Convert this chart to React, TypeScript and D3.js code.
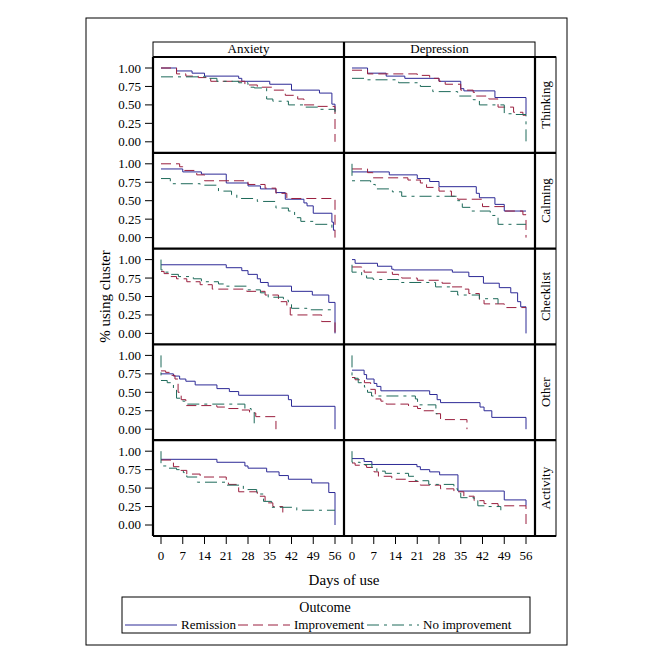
import React from 'react';
import * as d3 from 'd3';

type Pt = [number, number];

const columns = ['Anxiety', 'Depression'];
const rows = ['Thinking', 'Calming', 'Checklist', 'Other', 'Activity'];
const outcomes = ['Remission', 'Improvement', 'No improvement'];
const dayTicks = [0, 7, 14, 21, 28, 35, 42, 49, 56];
const pctTicks = [0, 0.25, 0.5, 0.75, 1];

// [day, proportion still using cluster]
const anxThinkingRem: Pt[] = [[0, 1.0], [5, 0.96], [10, 0.93], [14, 0.89], [25, 0.86], [26, 0.82], [35, 0.78], [42, 0.7], [51, 0.66], [55, 0.51], [56, 0.42]];
const anxThinkingImp: Pt[] = [[0, 1.0], [5, 0.92], [8, 0.89], [12, 0.87], [16, 0.82], [27, 0.77], [31, 0.74], [36, 0.7], [40, 0.63], [44, 0.58], [46, 0.5], [50, 0.48], [56, 0.0]];
const anxThinkingNo: Pt[] = [[0, 0.88], [15, 0.86], [18, 0.82], [25, 0.8], [28, 0.74], [30, 0.73], [34, 0.58], [36, 0.55], [41, 0.5], [46, 0.47], [51, 0.44], [56, 0.4]];

const depThinkingRem: Pt[] = [[0, 1.0], [5, 0.93], [11, 0.89], [17, 0.86], [28, 0.82], [35, 0.72], [36, 0.69], [46, 0.6], [56, 0.37]];
const depThinkingImp: Pt[] = [[0, 0.97], [5, 0.92], [21, 0.9], [25, 0.86], [28, 0.82], [30, 0.78], [35, 0.7], [39, 0.67], [40, 0.62], [44, 0.58], [47, 0.47], [52, 0.4], [55, 0.36], [56, 0.36]];
const depThinkingNo: Pt[] = [[0, 0.86], [5, 0.84], [15, 0.8], [22, 0.75], [26, 0.68], [34, 0.62], [39, 0.57], [41, 0.5], [49, 0.38], [52, 0.37], [56, 0.0]];

const anxCalmingRem: Pt[] = [[0, 0.93], [7, 0.89], [13, 0.86], [21, 0.74], [28, 0.7], [32, 0.66], [37, 0.61], [40, 0.52], [46, 0.47], [47, 0.43], [49, 0.33], [55, 0.21], [55.5, 0.1], [56, 0.1]];
const anxCalmingImp: Pt[] = [[0, 1.0], [6, 0.96], [7, 0.91], [11.5, 0.85], [14, 0.77], [28, 0.72], [33.5, 0.67], [37, 0.6], [40.5, 0.53], [56, 0.0]];
const anxCalmingNo: Pt[] = [[0, 0.8], [3, 0.73], [12.6, 0.71], [18.5, 0.63], [22.7, 0.58], [24.4, 0.53], [31, 0.49], [37, 0.4], [41, 0.36], [43, 0.27], [45, 0.22], [49, 0.18], [55, 0.12], [56, 0.12]];

const depCalmingRem: Pt[] = [[0, 0.89], [12, 0.85], [21, 0.8], [25, 0.76], [28, 0.69], [40, 0.6], [41, 0.54], [46, 0.45], [49, 0.36], [56, 0.36]];
const depCalmingImp: Pt[] = [[0, 0.93], [5, 0.88], [6.7, 0.81], [18, 0.78], [22, 0.74], [24, 0.68], [28, 0.63], [32, 0.56], [34, 0.52], [42, 0.42], [49, 0.36], [55, 0.31], [56, 0.0]];
const depCalmingNo: Pt[] = [[0, 1.0], [0, 0.77], [6, 0.72], [7.5, 0.66], [13, 0.62], [16, 0.56], [34, 0.5], [35.5, 0.41], [38, 0.36], [44.5, 0.3], [47, 0.18], [56, 0.18]];

const anxChecklistRem: Pt[] = [[0, 0.93], [21, 0.89], [26, 0.85], [28, 0.8], [31, 0.74], [32, 0.69], [34.5, 0.64], [42, 0.57], [48.7, 0.52], [54, 0.42], [56, 0.0]];
const anxChecklistImp: Pt[] = [[0, 0.84], [1, 0.81], [3, 0.77], [5, 0.74], [8.3, 0.7], [12.6, 0.66], [16.5, 0.6], [27.6, 0.57], [33.5, 0.52], [37.8, 0.43], [40.5, 0.38], [41.6, 0.25], [51.7, 0.16], [55.5, 0.16], [56, 0.0]];
const anxChecklistNo: Pt[] = [[0, 1.0], [0, 0.86], [1, 0.83], [3, 0.8], [5.6, 0.77], [10.4, 0.74], [13, 0.7], [18.5, 0.67], [21, 0.64], [27.6, 0.59], [32, 0.55], [34.5, 0.49], [39.4, 0.45], [41, 0.39], [42, 0.34], [47, 0.32], [56, 0.32]];

const depChecklistRem: Pt[] = [[0, 1.0], [1, 0.95], [8.2, 0.91], [12.8, 0.87], [13.4, 0.86], [32.3, 0.83], [37.6, 0.77], [42.3, 0.68], [47.4, 0.62], [51.1, 0.55], [53.3, 0.43], [54.3, 0.36], [56, 0.0]];
const depChecklistImp: Pt[] = [[0, 0.9], [3.1, 0.86], [3.9, 0.83], [13, 0.8], [15, 0.78], [16, 0.75], [21, 0.72], [29, 0.68], [31.7, 0.63], [36, 0.6], [37.6, 0.54], [41, 0.45], [42.5, 0.4], [49, 0.35], [56, 0.35]];
const depChecklistNo: Pt[] = [[0, 0.93], [0, 0.83], [3.1, 0.78], [4.7, 0.75], [6.8, 0.73], [15, 0.69], [26.9, 0.63], [31.7, 0.57], [34, 0.52], [41, 0.47], [47, 0.4]];

const anxOtherRem: Pt[] = [[0, 0.75], [4, 0.72], [6, 0.68], [8, 0.65], [11, 0.6], [18, 0.55], [22, 0.51], [25, 0.46], [41, 0.4], [42, 0.31], [56, 0.0]];
const anxOtherImp: Pt[] = [[0, 0.79], [1.5, 0.77], [3, 0.73], [4.5, 0.68], [5.5, 0.5], [6.5, 0.4], [8, 0.32], [18, 0.3], [21, 0.28], [26, 0.26], [28.5, 0.22], [30.5, 0.17], [37, 0.0]];
const anxOtherNo: Pt[] = [[0, 1.0], [0, 0.66], [2, 0.63], [4, 0.54], [5, 0.42], [7, 0.38], [8.5, 0.34], [27, 0.28], [29, 0.24], [30, 0.08]];

const depOtherRem: Pt[] = [[0, 0.8], [3.9, 0.74], [4.7, 0.68], [7.1, 0.62], [8, 0.58], [9.3, 0.52], [25, 0.47], [27.4, 0.4], [28.5, 0.36], [41.2, 0.3], [42.5, 0.25], [45, 0.16], [56, 0.0]];
const depOtherImp: Pt[] = [[0, 0.7], [1, 0.67], [4, 0.63], [6, 0.54], [7.5, 0.41], [9.3, 0.38], [11, 0.34], [18.2, 0.31], [21.1, 0.28], [22.5, 0.25], [26.3, 0.21], [28.5, 0.13], [37, 0.0]];
const depOtherNo: Pt[] = [[0, 1.0], [0, 0.69], [2, 0.63], [4, 0.57], [5, 0.5], [6.3, 0.45], [20.4, 0.41], [21.1, 0.33], [27, 0.21], [27.5, 0.21]];

const anxActivityRem: Pt[] = [[0, 0.89], [18, 0.85], [27, 0.8], [28, 0.77], [34, 0.72], [38, 0.67], [41, 0.62], [48.5, 0.57], [54, 0.44], [56, 0.0]];
const anxActivityImp: Pt[] = [[0, 0.88], [4, 0.79], [6, 0.74], [8.3, 0.69], [12.6, 0.65], [21, 0.61], [21.7, 0.55], [25, 0.45], [31, 0.39], [33.5, 0.3], [36, 0.25], [39.2, 0.17]];
const anxActivityNo: Pt[] = [[0, 1.0], [0, 0.8], [2, 0.77], [5, 0.75], [7.2, 0.71], [8.3, 0.65], [11.7, 0.58], [20.6, 0.54], [26.5, 0.48], [30.8, 0.42], [33, 0.32], [35.6, 0.24], [43.7, 0.2], [56, 0.2]];

const depActivityRem: Pt[] = [[0, 0.9], [3.9, 0.86], [6.4, 0.82], [20.9, 0.79], [22, 0.75], [25, 0.72], [28.2, 0.68], [34.1, 0.46], [49, 0.34], [56, 0.26]];
const depActivityImp: Pt[] = [[0, 0.84], [1, 0.81], [4.7, 0.78], [7.1, 0.72], [8.5, 0.66], [12.8, 0.62], [18.2, 0.59], [22, 0.54], [28.5, 0.49], [32.8, 0.45], [36, 0.39], [39.3, 0.33], [42.5, 0.29], [47, 0.26], [56, 0.0]];
const depActivityNo: Pt[] = [[0, 1.0], [0, 0.85], [2.6, 0.82], [6.4, 0.78], [8, 0.73], [10.7, 0.7], [18.2, 0.66], [20.4, 0.6], [24.7, 0.55], [32.8, 0.49], [34, 0.43], [35, 0.37], [39.3, 0.34], [40.5, 0.26], [43.5, 0.25], [47.9, 0.2]];

// panels[row][col] -> [remission, improvement, no improvement]
const panels: Pt[][][][] = [
  [[anxThinkingRem, anxThinkingImp, anxThinkingNo], [depThinkingRem, depThinkingImp, depThinkingNo]],
  [[anxCalmingRem, anxCalmingImp, anxCalmingNo], [depCalmingRem, depCalmingImp, depCalmingNo]],
  [[anxChecklistRem, anxChecklistImp, anxChecklistNo], [depChecklistRem, depChecklistImp, depChecklistNo]],
  [[anxOtherRem, anxOtherImp, anxOtherNo], [depOtherRem, depOtherImp, depOtherNo]],
  [[anxActivityRem, anxActivityImp, anxActivityNo], [depActivityRem, depActivityImp, depActivityNo]],
];

const colors = ['#2D2A96', '#9A1F3E', '#1E6A5A'];
const dashes = ['none', '10,5', '12,5,3,5'];
const font = '"Liberation Serif", "DejaVu Serif", serif';

const gridLeft = 153;
const gridTop = 57;
const colW = 191;
const rowH = 95.8;
const stripW = 21;
const headerTop = 42;
const gridRight = gridLeft + colW * columns.length;
const gridBottom = gridTop + rowH * rows.length;

const x = d3.scaleLinear().domain([0, 56]).range([8, colW - 9]);
const y = d3.scaleLinear().domain([0, 1]).range([rowH - 11, 11]);
const line = d3
  .line<Pt>()
  .x(d => x(d[0]))
  .y(d => y(d[1]))
  .curve(d3.curveStepAfter);
const fmt = d3.format('.2f');

const App = () => {
  return (
    <svg
      width={650}
      height={650}
      style={{ position: 'absolute', left: 0, top: 0, background: '#fff' }}
      fontFamily={font}
    >
      <rect x={86} y={18} width={481} height={627} fill="none" stroke="#000" strokeWidth={1} />

      {/* column headers */}
      <rect x={gridLeft} y={headerTop} width={colW * 2} height={gridTop - headerTop} fill="none" stroke="#000" strokeWidth={1} />
      {columns.map((c, i) => (
        <text key={c} x={gridLeft + colW * i + colW / 2} y={gridTop - 4} fontSize={13} textAnchor="middle">
          {c}
        </text>
      ))}

      {/* row strips */}
      <rect x={gridRight} y={gridTop} width={stripW} height={gridBottom - gridTop} fill="none" stroke="#000" strokeWidth={1} />
      {rows.map((r, i) => {
        const cy = gridTop + rowH * i + rowH / 2;
        const cx = gridRight + stripW / 2 + 4.5;
        return (
          <text key={r} transform={`translate(${cx},${cy}) rotate(-90)`} fontSize={13} textAnchor="middle">
            {r}
          </text>
        );
      })}

      {rows.map((r, ri) =>
        columns.map((c, ci) => {
          const px = gridLeft + colW * ci;
          const py = gridTop + rowH * ri;
          return (
            <g key={`${r}-${c}`} transform={`translate(${px},${py})`}>
              {panels[ri][ci].map((s, k) => (
                <path
                  key={k}
                  d={line(s) || ''}
                  fill="none"
                  stroke={colors[k]}
                  strokeWidth={1}
                  strokeDasharray={dashes[k]}
                />
              ))}
              {ci === 0 &&
                pctTicks.map(t => (
                  <g key={t}>
                    <line x1={-8} x2={0} y1={y(t)} y2={y(t)} stroke="#000" />
                    <text x={-12} y={y(t) + 4.5} fontSize={13} textAnchor="end">
                      {fmt(t)}
                    </text>
                  </g>
                ))}
              {ri === rows.length - 1 &&
                dayTicks.map(t => (
                  <g key={t}>
                    <line x1={x(t)} x2={x(t)} y1={rowH} y2={rowH + 8} stroke="#000" />
                    <text x={x(t)} y={rowH + 24} fontSize={13} textAnchor="middle">
                      {t}
                    </text>
                  </g>
                ))}
            </g>
          );
        })
      )}

      {/* thick panel borders */}
      {d3.range(rows.length + 1).map(i => (
        <line
          key={`h${i}`}
          x1={gridLeft}
          x2={i === 0 ? gridRight + stripW : gridRight + stripW}
          y1={gridTop + rowH * i}
          y2={gridTop + rowH * i}
          stroke="#000"
          strokeWidth={2.2}
        />
      ))}
      {d3.range(columns.length + 1).map(i => (
        <line
          key={`v${i}`}
          x1={gridLeft + colW * i}
          x2={gridLeft + colW * i}
          y1={i === 1 ? headerTop : gridTop}
          y2={gridBottom}
          stroke="#000"
          strokeWidth={2.2}
        />
      ))}

      <text x={(gridLeft + gridRight) / 2} y={585} fontSize={15} textAnchor="middle">
        Days of use
      </text>
      <text transform={`translate(110,${(gridTop + gridBottom) / 2}) rotate(-90)`} fontSize={15} textAnchor="middle">
        % using cluster
      </text>

      {/* legend */}
      <rect x={122} y={597} width={408} height={36} fill="none" stroke="#000" strokeWidth={1} />
      <text x={325} y={612} fontSize={14} textAnchor="middle">
        Outcome
      </text>
      {outcomes.map((o, k) => {
        const lx = [125, 238, 367][k];
        return (
          <g key={o}>
            <line x1={lx} x2={lx + 52} y1={625} y2={625} stroke={colors[k]} strokeWidth={1} strokeDasharray={dashes[k]} />
            <text x={lx + 56} y={629} fontSize={13}>
              {o}
            </text>
          </g>
        );
      })}
    </svg>
  );
};

export default App;
